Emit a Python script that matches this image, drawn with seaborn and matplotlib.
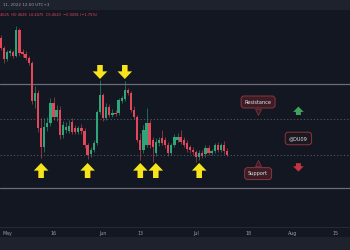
import matplotlib
matplotlib.use("Agg")
import matplotlib.pyplot as plt
import seaborn as sns
import numpy as np
import pandas as pd
from matplotlib.patches import Rectangle

# ---------------- data (daily candles, Apr 29 – Jul 11 2022) ----------------
start_date = "2022-04-29"
opens = [0.705, 0.680, 0.6525, 0.6675, 0.670, 0.660, 0.725, 0.670, 0.665, 0.655,
         0.6425, 0.5475, 0.5675, 0.480, 0.4325, 0.4825, 0.4925, 0.5425, 0.5075, 0.525,
         0.4625, 0.475, 0.4725, 0.495, 0.480, 0.470, 0.480, 0.4725, 0.4375, 0.415,
         0.425, 0.4425, 0.520, 0.5625, 0.505, 0.5325, 0.5125, 0.5175, 0.5175, 0.5475,
         0.5525, 0.575, 0.5675, 0.525, 0.5075, 0.450, 0.425, 0.4375, 0.4925, 0.450,
         0.4175, 0.4425, 0.455, 0.450, 0.4375, 0.4175, 0.4375, 0.450, 0.4575, 0.450,
         0.4425, 0.4325, 0.425, 0.420, 0.4075, 0.4175, 0.415, 0.430, 0.4175, 0.4225,
         0.4375, 0.425, 0.4375, 0.4225]
highs = [0.7125, 0.685, 0.675, 0.6775, 0.675, 0.735, 0.730, 0.6775, 0.6725, 0.660,
         0.6475, 0.585, 0.575, 0.505, 0.505, 0.5075, 0.555, 0.5575, 0.5375, 0.535,
         0.4975, 0.495, 0.500, 0.505, 0.4875, 0.485, 0.490, 0.480, 0.4425, 0.4325,
         0.450, 0.525, 0.600, 0.5675, 0.5425, 0.540, 0.5275, 0.525, 0.555, 0.560,
         0.5975, 0.580, 0.5725, 0.535, 0.5125, 0.4675, 0.4875, 0.530, 0.500, 0.4575,
         0.455, 0.4575, 0.475, 0.4575, 0.445, 0.4425, 0.465, 0.4675, 0.475, 0.4575,
         0.450, 0.4375, 0.4325, 0.425, 0.425, 0.425, 0.4375, 0.4375, 0.4275, 0.4425,
         0.445, 0.4425, 0.4475, 0.430]
lows = [0.675, 0.6425, 0.6475, 0.660, 0.655, 0.6575, 0.660, 0.6575, 0.650, 0.6375,
        0.540, 0.530, 0.470, 0.405, 0.420, 0.4725, 0.485, 0.500, 0.4975, 0.4525,
        0.455, 0.4675, 0.4675, 0.465, 0.465, 0.465, 0.465, 0.430, 0.4025, 0.4075,
        0.420, 0.4375, 0.515, 0.4975, 0.500, 0.5075, 0.5075, 0.510, 0.5125, 0.5425,
        0.5475, 0.5625, 0.520, 0.5025, 0.445, 0.400, 0.4175, 0.4325, 0.430, 0.395,
        0.410, 0.435, 0.4375, 0.430, 0.410, 0.4125, 0.4325, 0.445, 0.440, 0.4325,
        0.420, 0.4175, 0.4125, 0.395, 0.400, 0.405, 0.4075, 0.4125, 0.4125, 0.4175,
        0.420, 0.420, 0.415, 0.410]
closes = [0.680, 0.6525, 0.670, 0.6725, 0.660, 0.725, 0.6675, 0.665, 0.655, 0.6425,
          0.5475, 0.5675, 0.480, 0.4325, 0.4825, 0.4925, 0.5425, 0.5075, 0.525, 0.4625,
          0.4875, 0.4825, 0.485, 0.470, 0.470, 0.480, 0.4725, 0.4375, 0.4125, 0.425,
          0.4425, 0.520, 0.5625, 0.505, 0.5325, 0.5125, 0.5175, 0.515, 0.550, 0.555,
          0.575, 0.5675, 0.525, 0.5075, 0.450, 0.425, 0.475, 0.4925, 0.4375, 0.4325,
          0.445, 0.450, 0.4425, 0.4375, 0.4175, 0.4375, 0.4575, 0.4575, 0.445, 0.4375,
          0.4275, 0.425, 0.420, 0.4075, 0.4175, 0.410, 0.430, 0.4175, 0.4225, 0.4375,
          0.425, 0.4375, 0.4225, 0.4125]

resistance_level = 0.590
mid_level = 0.5025
support_level = 0.4125
floor_level = 0.330

ref_date = "2022-05-01"
tick_dates = ["2022-05-01", "2022-05-16", "2022-06-01", "2022-06-13",
              "2022-07-01", "2022-07-18", "2022-08-01", "2022-08-15"]
tick_labels = ["May", "16", "Jun", "13", "Jul", "18", "Aug", "15"]

top_arrow_dates = ["2022-05-31", "2022-06-08"]
bottom_arrow_dates = ["2022-05-12", "2022-05-27", "2022-06-13", "2022-06-18", "2022-07-02"]

header_line1 = "11, 2022 12:00 UTC+3"
header_line2 = "4625  H0.4628  L0.4475  C0.4543  \u22120.0081 (\u22121.75%)"

# ---------------- styling ----------------
BG = "#131722"
STRIP = "#1e222d"
GREEN = "#2fa57a"
RED = "#e3475a"
YELLOW = "#f7e41c"

sns.set_theme(style="dark", rc={"axes.facecolor": BG, "figure.facecolor": BG})
plt.rcParams["font.family"] = ["DejaVu Sans"]

W, H = 350, 250
fig = plt.figure(figsize=(W / 100, H / 100), dpi=100)
fig.patch.set_facecolor(BG)

# background strips
fig.add_artist(Rectangle((0, 1 - 10 / H), 1, 10 / H, transform=fig.transFigure,
                         facecolor=STRIP, edgecolor="none", zorder=0))
fig.add_artist(Rectangle((0, 0), 1, 13 / H, transform=fig.transFigure,
                         facecolor=STRIP, edgecolor="none", zorder=0))

ax = fig.add_axes([0, 23 / H, 1, (227 - 10) / H])
ax.set_facecolor(BG)

ref = pd.Timestamp(ref_date)
df = pd.DataFrame({
    "date": pd.date_range(start_date, periods=len(opens), freq="D"),
    "open": opens, "high": highs, "low": lows, "close": closes,
})
df["x"] = (df["date"] - ref).dt.days
df["up"] = df["close"] >= df["open"]
df["bottom"] = np.minimum(df["open"], df["close"])
df["height"] = (df["close"] - df["open"]).abs().clip(lower=0.0015)
colors = np.where(df["up"], GREEN, RED)

# level lines
ax.axhline(resistance_level, color="#6b6e79", lw=0.9, zorder=1)
ax.axhline(floor_level, color="#6b6e79", lw=0.9, zorder=1)
ax.axhline(mid_level, color="#4c505b", lw=0.8, ls=(0, (1.2, 1.8)), zorder=1)
ax.axhline(support_level, color="#4c505b", lw=0.8, ls=(0, (1.2, 1.8)), zorder=1)

# candles
ax.vlines(df["x"], df["low"], df["high"], colors=colors, lw=0.5, alpha=0.8, zorder=2)
ax.bar(df["x"], df["height"], bottom=df["bottom"], width=0.72, color=colors,
       linewidth=0, zorder=3)

# yellow arrows
arrow_style = "simple,head_length=0.55,head_width=1.05,tail_width=0.4"
for d in top_arrow_dates:
    xd = (pd.Timestamp(d) - ref).days
    ax.annotate("", xy=(xd, 0.6025), xytext=(xd, 0.6375),
                arrowprops=dict(arrowstyle=arrow_style, color=YELLOW, lw=0,
                                shrinkA=0, shrinkB=0, mutation_scale=10), zorder=5)
for d in bottom_arrow_dates:
    xd = (pd.Timestamp(d) - ref).days
    ax.annotate("", xy=(xd, 0.3925), xytext=(xd, 0.355),
                arrowprops=dict(arrowstyle=arrow_style, color=YELLOW, lw=0,
                                shrinkA=0, shrinkB=0, mutation_scale=10), zorder=5)

# label boxes
box_fc = "#3d1d25"
box_ec = "#8a3440"
txt_c = "#e4e4e8"
lab_x = 81.0
ax.plot([lab_x], [0.5195], marker="v", ms=4.6, color=box_fc, mec=box_ec, mew=0.5, zorder=6)
ax.text(lab_x, 0.545, "Resistance", fontsize=3.6, color=txt_c, ha="center",
        va="center", zorder=7,
        bbox=dict(boxstyle="round,pad=0.7,rounding_size=0.6", fc=box_fc, ec=box_ec, lw=0.7))
ax.plot([lab_x], [0.3925], marker="^", ms=4.6, color=box_fc, mec=box_ec, mew=0.5, zorder=6)
ax.text(lab_x, 0.366, "Support", fontsize=3.6, color=txt_c, ha="center",
        va="center", zorder=7,
        bbox=dict(boxstyle="round,pad=0.7,rounding_size=0.6", fc=box_fc, ec=box_ec, lw=0.7))
ax.text(94.0, 0.4538, "@DU09", fontsize=3.6, color=txt_c, ha="center",
        va="center", zorder=7,
        bbox=dict(boxstyle="round,pad=0.75,rounding_size=0.6", fc="#1c1820", ec=box_ec, lw=0.7))

# small green / red arrows
small_style = "simple,head_length=0.7,head_width=1.4,tail_width=0.65"
ax.annotate("", xy=(94.0, 0.5335), xytext=(94.0, 0.5125),
            arrowprops=dict(arrowstyle=small_style, color="#3fa35e", lw=0,
                            shrinkA=0, shrinkB=0, mutation_scale=5.5), zorder=5)
ax.annotate("", xy=(94.0, 0.371), xytext=(94.0, 0.392),
            arrowprops=dict(arrowstyle=small_style, color="#c5343f", lw=0,
                            shrinkA=0, shrinkB=0, mutation_scale=5.5), zorder=5)

# axes
ax.set_xlim((0 - 7) / 3.1, (W - 7) / 3.1)
ax.set_ylim(0.8 - 0.0025 * 227, 0.8 - 0.0025 * 10)
tick_x = [(pd.Timestamp(t) - ref).days for t in tick_dates]
ax.set_xticks(tick_x)
ax.set_xticklabels(tick_labels)
ax.set_yticks([])
ax.tick_params(axis="x", length=0, pad=3.2, labelsize=3.4, colors="#9a9da6")
ax.grid(False)
for s in ax.spines.values():
    s.set_visible(False)
ax.spines["bottom"].set_visible(True)
ax.spines["bottom"].set_color("#2a2e39")
ax.spines["bottom"].set_linewidth(0.6)

# header
fig.text(3 / W, 1 - 5.5 / H, header_line1, fontsize=3.0, color="#9a9da6", va="center", ha="left")
fig.text(0 / W, 1 - 15 / H, header_line2, fontsize=2.65, color="#e3475a", va="center", ha="left")

fig.savefig("out.png", dpi=100, facecolor=BG)
